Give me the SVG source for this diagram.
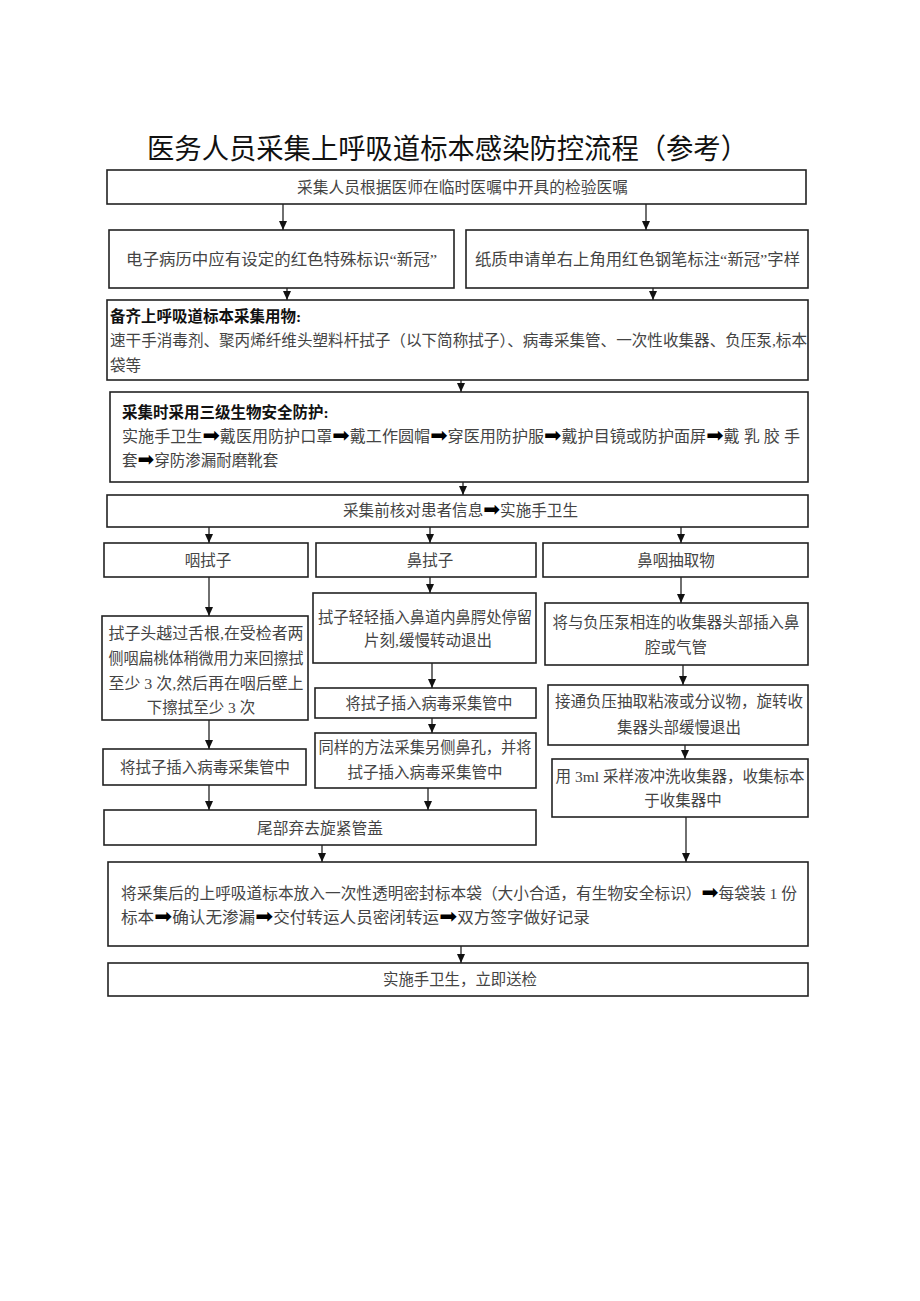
<svg xmlns="http://www.w3.org/2000/svg" width="920" height="1301" viewBox="0 0 920 1301">
<style>
.box{fill:#fff;stroke:#222;stroke-width:1.6}
.t{font-family:"Liberation Serif","Noto Sans CJK SC",serif;font-size:15.5px;fill:#444}
.c{text-anchor:middle}
.b{font-family:"Liberation Serif","Noto Sans CJK SC",serif;font-size:15.5px;font-weight:bold;fill:#111}
.ar{font-family:"DejaVu Sans",sans-serif;font-size:20px;fill:#000}
.title{font-family:"Liberation Sans","Noto Sans CJK SC",sans-serif;font-size:28px;fill:#111}
.con line{stroke:#222;stroke-width:1.3;marker-end:url(#ah)}
</style>
<defs>
<marker id="ah" markerUnits="userSpaceOnUse" markerWidth="9" markerHeight="8" refX="9" refY="4" orient="auto" viewBox="0 0 9 8">
<path d="M0,0 L9,4 L0,8 Z" fill="#111"/>
</marker>
</defs>
<rect width="920" height="1301" fill="#fff"/>
<text class="title" x="147" y="159" textLength="601" lengthAdjust="spacingAndGlyphs">医务人员采集上呼吸道标本感染防控流程（参考）</text>

<g id="n1"><rect class="box" x="107" y="170" width="699" height="34"/>
<text class="t" x="297" y="193" textLength="331" lengthAdjust="spacingAndGlyphs">采集人员根据医师在临时医嘱中开具的检验医嘱</text></g>

<g id="n2a"><rect class="box" x="109" y="230" width="345" height="58"/>
<text class="t" x="126" y="265" textLength="311" lengthAdjust="spacingAndGlyphs">电子病历中应有设定的红色特殊标识“新冠”</text></g>
<g id="n2b"><rect class="box" x="466" y="230" width="342" height="58"/>
<text class="t" x="475" y="265" textLength="325" lengthAdjust="spacingAndGlyphs">纸质申请单右上角用红色钢笔标注“新冠”字样</text></g>

<g id="n3"><rect class="box" x="107" y="300" width="701" height="80"/>
<text class="b" x="110" y="322">备齐上呼吸道标本采集用物:</text>
<text class="t" x="110" y="346" textLength="697" lengthAdjust="spacingAndGlyphs">速干手消毒剂、聚丙烯纤维头塑料杆拭子（以下简称拭子）、病毒采集管、一次性收集器、负压泵,标本</text>
<text class="t" x="110" y="371">袋等</text></g>

<g id="n4"><rect class="box" x="110" y="392" width="698" height="90"/>
<text class="b" x="122" y="418">采集时采用三级生物安全防护:</text>
<text class="t" x="122" y="442" textLength="678" lengthAdjust="spacingAndGlyphs">实施手卫生<tspan class="ar">➡</tspan>戴医用防护口罩<tspan class="ar">➡</tspan>戴工作圆帽<tspan class="ar">➡</tspan>穿医用防护服<tspan class="ar">➡</tspan>戴护目镜或防护面屏<tspan class="ar">➡</tspan>戴 乳 胶 手</text>
<text class="t" x="122" y="466">套<tspan class="ar">➡</tspan>穿防渗漏耐磨靴套</text></g>

<g id="n5"><rect class="box" x="107" y="495" width="701" height="32"/>
<text class="t" x="343" y="516" textLength="235" lengthAdjust="spacingAndGlyphs">采集前核对患者信息<tspan class="ar">➡</tspan>实施手卫生</text></g>

<g id="n6a"><rect class="box" x="104" y="543" width="204" height="34"/>
<text class="t c" x="208" y="566">咽拭子</text></g>
<g id="n6b"><rect class="box" x="316" y="543" width="220" height="34"/>
<text class="t c" x="430" y="566">鼻拭子</text></g>
<g id="n6c"><rect class="box" x="543" y="543" width="265" height="34"/>
<text class="t c" x="676" y="566">鼻咽抽取物</text></g>

<g id="n7a"><rect class="box" x="102" y="616" width="206" height="104"/>
<text class="t c" x="206" y="639" textLength="195" lengthAdjust="spacingAndGlyphs">拭子头越过舌根,在受检者两</text>
<text class="t c" x="206" y="664" textLength="195" lengthAdjust="spacingAndGlyphs">侧咽扁桃体稍微用力来回擦拭</text>
<text class="t c" x="206" y="689" textLength="195" lengthAdjust="spacingAndGlyphs">至少 3 次,然后再在咽后壁上</text>
<text class="t c" x="201" y="713">下擦拭至少 3 次</text></g>

<g id="n7b"><rect class="box" x="313" y="593" width="223" height="70"/>
<text class="t c" x="425" y="623" textLength="214" lengthAdjust="spacingAndGlyphs">拭子轻轻插入鼻道内鼻腭处停留</text>
<text class="t c" x="428" y="646">片刻,缓慢转动退出</text></g>

<g id="n7c"><rect class="box" x="545" y="603" width="263" height="62"/>
<text class="t c" x="676" y="628" textLength="247" lengthAdjust="spacingAndGlyphs">将与负压泵相连的收集器头部插入鼻</text>
<text class="t c" x="676" y="653">腔或气管</text></g>

<g id="n8b"><rect class="box" x="315" y="688" width="221" height="30"/>
<text class="t c" x="429" y="709" textLength="167" lengthAdjust="spacingAndGlyphs">将拭子插入病毒采集管中</text></g>

<g id="n8c"><rect class="box" x="548" y="685" width="260" height="60"/>
<text class="t c" x="679" y="707" textLength="248" lengthAdjust="spacingAndGlyphs">接通负压抽取粘液或分议物，旋转收</text>
<text class="t c" x="679" y="733">集器头部缓慢退出</text></g>

<g id="n9a"><rect class="box" x="103" y="749" width="203" height="36"/>
<text class="t c" x="205" y="773" textLength="170" lengthAdjust="spacingAndGlyphs">将拭子插入病毒采集管中</text></g>

<g id="n9b"><rect class="box" x="315" y="733" width="221" height="55"/>
<text class="t c" x="425" y="753" textLength="213" lengthAdjust="spacingAndGlyphs">同样的方法采集另侧鼻孔，并将</text>
<text class="t c" x="425" y="778">拭子插入病毒采集管中</text></g>

<g id="n9c"><rect class="box" x="552" y="759" width="256" height="58"/>
<text class="t c" x="680" y="782" textLength="249" lengthAdjust="spacingAndGlyphs">用 3ml 采样液冲洗收集器，收集标本</text>
<text class="t c" x="683" y="806">于收集器中</text></g>

<g id="n10"><rect class="box" x="104" y="810" width="432" height="35"/>
<text class="t c" x="320" y="834" textLength="126" lengthAdjust="spacingAndGlyphs">尾部弃去旋紧管盖</text></g>

<g id="n11"><rect class="box" x="108" y="862" width="700" height="84"/>
<text class="t" x="121" y="899" textLength="676" lengthAdjust="spacingAndGlyphs">将采集后的上呼吸道标本放入一次性透明密封标本袋（大小合适，有生物安全标识）<tspan class="ar">➡</tspan>每袋装 1 份</text>
<text class="t" x="121" y="923" textLength="469" lengthAdjust="spacingAndGlyphs">标本<tspan class="ar">➡</tspan>确认无渗漏<tspan class="ar">➡</tspan>交付转运人员密闭转运<tspan class="ar">➡</tspan>双方签字做好记录</text></g>

<g id="n12"><rect class="box" x="108" y="963" width="700" height="33"/>
<text class="t c" x="460" y="985" textLength="154" lengthAdjust="spacingAndGlyphs">实施手卫生，立即送检</text></g>

<g id="connectors" class="con">
<line x1="283" y1="204" x2="283" y2="230"/>
<line x1="646" y1="204" x2="646" y2="230"/>
<line x1="287" y1="288" x2="287" y2="300"/>
<line x1="653" y1="288" x2="653" y2="300"/>
<line x1="461" y1="380" x2="461" y2="392"/>
<line x1="463" y1="482" x2="463" y2="495"/>
<line x1="209" y1="527" x2="209" y2="543"/>
<line x1="430" y1="527" x2="430" y2="543"/>
<line x1="681" y1="527" x2="681" y2="543"/>
<line x1="209" y1="577" x2="209" y2="616"/>
<line x1="430" y1="577" x2="430" y2="593"/>
<line x1="681" y1="577" x2="681" y2="603"/>
<line x1="209" y1="720" x2="209" y2="749"/>
<line x1="432" y1="663" x2="432" y2="688"/>
<line x1="683" y1="665" x2="683" y2="685"/>
<line x1="432" y1="718" x2="432" y2="733"/>
<line x1="685" y1="745" x2="685" y2="759"/>
<line x1="209" y1="785" x2="209" y2="810"/>
<line x1="428" y1="788" x2="428" y2="810"/>
<line x1="322" y1="845" x2="322" y2="862"/>
<line x1="686" y1="817" x2="686" y2="862"/>
<line x1="461" y1="946" x2="461" y2="963"/>
</g>
</svg>
